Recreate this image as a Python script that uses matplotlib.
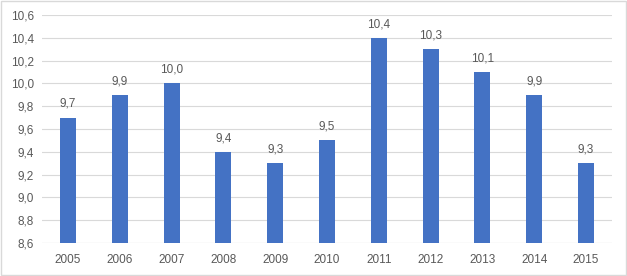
import matplotlib
matplotlib.use("Agg")
import matplotlib.pyplot as plt
from matplotlib.patches import Rectangle

years = ["2005", "2006", "2007", "2008", "2009", "2010",
         "2011", "2012", "2013", "2014", "2015"]
values = [9.7, 9.9, 10.0, 9.4, 9.3, 9.5, 10.4, 10.3, 10.1, 9.9, 9.3]
y_ticks = [8.6, 8.8, 9.0, 9.2, 9.4, 9.6, 9.8, 10.0, 10.2, 10.4, 10.6]

plt.rcParams['font.family'] = ['Liberation Sans', 'DejaVu Sans']
text_col = "#595959"

fig = plt.figure(figsize=(6.27, 2.76), dpi=100)
ax = fig.add_axes([0.067, 0.1196, 0.909, 0.826])

x = range(len(years))
ax.bar(x, values, width=0.31, color="#4472C4", zorder=3)

for i, v in enumerate(values):
    ax.annotate(f"{v:.1f}".replace(".", ","), (i, v), xytext=(0, 5.5),
                textcoords="offset points", ha="center", va="bottom",
                fontsize=8.5, color=text_col)

ax.set_xlim(-0.5, len(years) - 0.5)
ax.set_ylim(8.6, 10.6)
ax.set_yticks(y_ticks)
ax.set_yticklabels([f"{t:.1f}".replace(".", ",") for t in y_ticks])
ax.set_xticks(list(x))
ax.set_xticklabels(years)
ax.tick_params(axis="both", length=0, labelsize=8.5, colors=text_col)
ax.tick_params(axis="x", pad=8)
ax.tick_params(axis="y", pad=6)
ax.grid(axis="y", color="#D9D9D9", linewidth=0.8, zorder=0)
for s in ax.spines.values():
    s.set_visible(False)
ax.axhline(8.6, color="#D9D9D9", linewidth=0.8, zorder=1)

fig.patches.append(Rectangle((0.002, 0.004), 0.996, 0.992, transform=fig.transFigure,
                             fill=False, edgecolor="#D9D9D9", linewidth=1))

fig.savefig("out.png", dpi=100)
